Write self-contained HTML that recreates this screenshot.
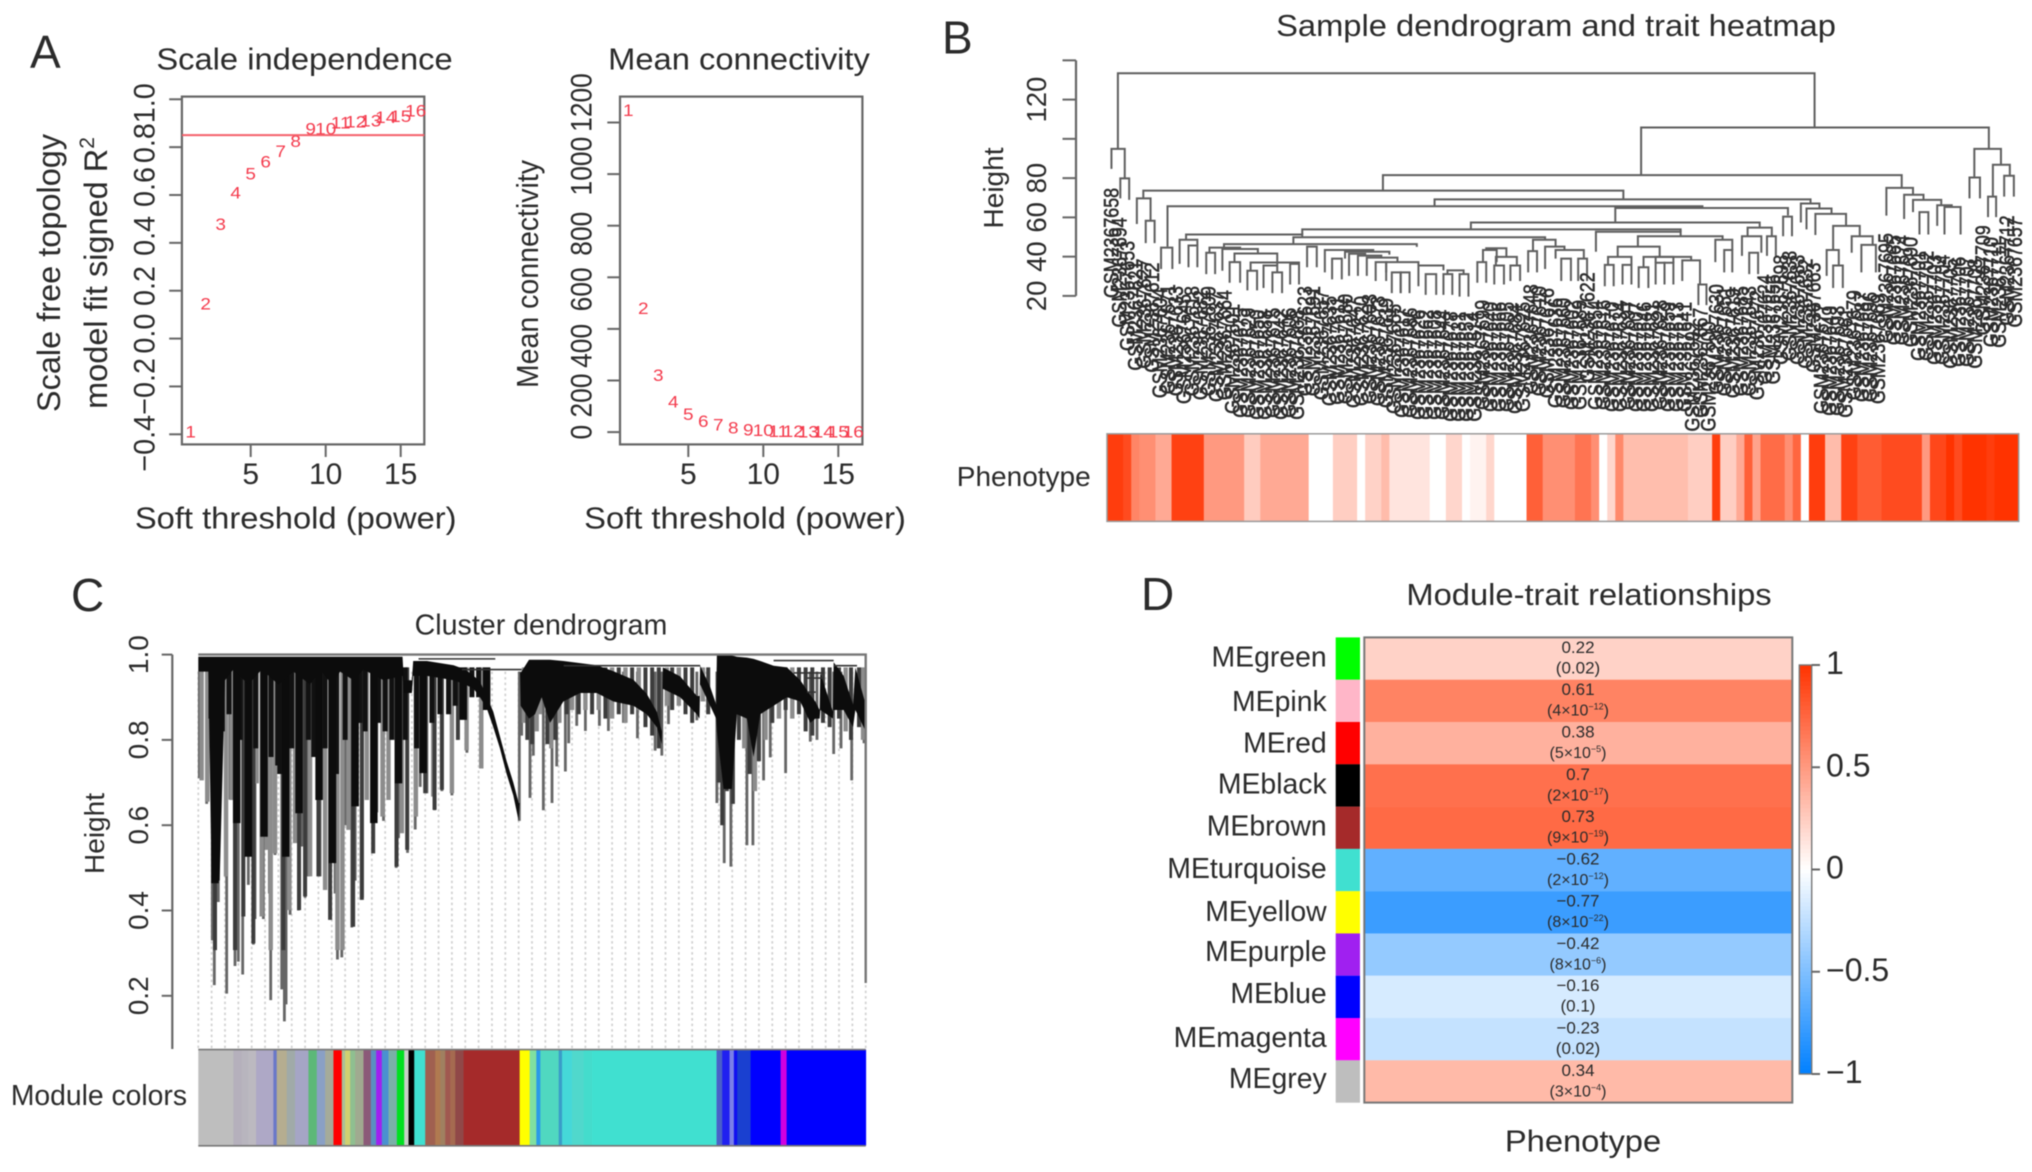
<!DOCTYPE html>
<html lang="en">
<head>
<meta charset="utf-8">
<title>WGCNA figure</title>
<style>
html,body{margin:0;padding:0;background:#fff;}
#figure{display:block;width:2032px;height:1172px;filter:blur(0.55px);font-family:"Liberation Sans",Arial,sans-serif;}
text{fill:#2b2b2b;font-family:"Liberation Sans",Arial,sans-serif;}
</style>
</head>
<body>
<svg id="figure" xmlns="http://www.w3.org/2000/svg" width="2032" height="1172" viewBox="0 0 2032 1172">
<rect x="0" y="0" width="2032" height="1172" fill="#fff"/>

<g id="panelA1">
<text x="30" y="68" font-size="46">A</text>
<text transform="translate(304.5,69.6) scale(1.055,1)" font-size="31" text-anchor="middle">Scale independence</text>
<text transform="translate(60,273) rotate(-90)" font-size="32.5" text-anchor="middle">Scale free topology</text>
<text transform="translate(107,273) rotate(-90)" font-size="32.5" text-anchor="middle">model fit signed R<tspan font-size="21" dy="-13">2</tspan></text>
<text transform="translate(295.7,528.6) scale(1.055,1)" font-size="31" text-anchor="middle">Soft threshold (power)</text>
</g>

<g id="panelA2">
<text transform="translate(739,69.6) scale(1.055,1)" font-size="31" text-anchor="middle">Mean connectivity</text>
<text transform="translate(538,274) rotate(-90) scale(.92,1)" font-size="31" text-anchor="middle">Mean connectivity</text>
<text transform="translate(745,528.6) scale(1.055,1)" font-size="31" text-anchor="middle">Soft threshold (power)</text>
</g>

<g id="panelB">
<text x="942" y="53.5" font-size="46">B</text>
<text transform="translate(1556,36) scale(1.055,1)" font-size="31" text-anchor="middle">Sample dendrogram and trait heatmap</text>
<text transform="translate(1003,188) rotate(-90)" font-size="28" text-anchor="middle">Height</text>
<text x="1090.7" y="486" font-size="28" text-anchor="end">Phenotype</text>
</g>

<g id="panelC">
<text x="71" y="611" font-size="46">C</text>
<text x="541" y="634.5" font-size="28.6" text-anchor="middle">Cluster dendrogram</text>
<text transform="translate(104,833.5) rotate(-90)" font-size="28" text-anchor="middle">Height</text>
<text x="187" y="1105" font-size="28.3" text-anchor="end">Module colors</text>
</g>

<g id="panelD">
<text x="1141" y="610" font-size="46">D</text>
<text transform="translate(1589,605) scale(1.055,1)" font-size="31" text-anchor="middle">Module-trait relationships</text>
<text transform="translate(1583,1151.7) scale(1.055,1)" font-size="31" text-anchor="middle">Phenotype</text>
</g>
</svg>

<script>
/* ---------- Panel A data ---------- */
const softPowers = [1,2,3,4,5,6,7,8,9,10,11,12,13,14,15,16];
const scaleFitR2 = [-0.39,0.146,0.478,0.609,0.688,0.74,0.782,0.824,0.878,0.878,0.903,0.907,0.91,0.925,0.93,0.952];
const r2Cutoff = 0.85;
const meanConnectivity = [1248,480,221,118,69,42,28,18,10,7,4,3,2,2,1,1];
const powerTicks = [5,10,15];
const r2Ticks = [-0.4,-0.2,0,0.2,0.4,0.6,0.8,1];
const r2TickLabels = ['\u22120.4','\u22120.2','0.0','0.2','0.4','0.6','0.8','1.0'];
const connectivityTicks = [0,200,400,600,800,1000,1200];

/* ---------- Panel B data ---------- */
const phenotypeValues = [.95,.95,.88,.6,.55,.55,.42,.42,.93,.93,.93,.93,.5,.5,.5,.5,.5,.25,.25,.42,.42,.42,.42,.42,.42,0,0,0,.24,.24,.24,0,.22,.22,.33,.13,.13,.13,.13,.13,0,0,.2,.2,0,.06,.06,.2,0,0,0,0,.78,.78,.55,.55,.55,.55,.68,.68,.55,0,.2,.58,.32,.32,.32,.32,.32,.32,.32,.32,.24,.24,.24,.95,.24,.24,.42,.78,.45,.72,.72,.72,.55,.75,0,.95,.95,.33,.33,.93,.93,.8,.8,.8,.88,.88,.88,.88,.88,.5,.9,.9,1,.88,1,1,1,.95,1,1,1];
const leafHang = [76,61,49,39,40,38,25,27,26,22,26,24,26,23,24,17,15,15,14,14,15,14,15,14,26,26,24,21,21,22,20,21,22,21,20,17,15,15,14,14,14,14,13,13,13,13,19,18,18,18,17,18,27,26,25,20,20,19,19,33,19,19,18,18,19,18,18,18,19,18,18,18,8,15,8,27,26,25,26,26,24,32,32,42,44,42,40,38,17,16,16,15,24,23,23,22,53,52,52,51,44,44,42,42,40,41,41,40,57,51,50,62,61];
const sampleSuffixes = [658,694,653,621,627,612,604,671,633,645,618,682,609,637,664,601,675,629,650,688,615,642,606,668,623,691,657,635,611,680,647,620,603,673,639,655,617,686,626,662,608,644,678,631,652,614,699,640,666,605,684,625,648,610,676,636,660,602,689,622,654,616,670,634,697,607,646,681,628,659,613,641,692,667,600,630,651,619,685,643,672,624,656,698,638,683,632,663,677,649,693,661,679,687,696,669,695,665,674,690,701,702,703,704,705,706,707,708,709,710,711,712,657];
/* each merge: left leaf position, right leaf position, merge height, left child height, right child height */
const mergeNodes = [
[1.35,87.7,133.4,95.2,105.8],[.55,2.2,94.9,84.7,79.9],[1.65,2.75,79.9,69.7,68.9],[66.2,109.3,105.8,81.5,94.9],
[34.2,98.5,81.5,73.6,75],[4.5,64,73.6,69.7,69.2],[3.7,5.4,69.7,56.6,58.3],[4.8,5.9,58.3,46.9,46.9],
[40.6,87.2,69.2,65.7,67.1],[7.5,73.8,65.7,45.1,64.8],[63,84.4,64.8,57.4,61],[45.1,80.9,57.4,53.9,54.8],
[24.2,71.1,53.9,51.3,52.7],[60.6,71.1,52.7,42.5,50.4],[65.8,76.3,50.4,45.1,48.6],[9.8,24.2,51.3,48.6,49.9],
[23.1,54.3,49.9,46.4,48.6],[14.5,38.4,46.4,43.9,45],[9,11.2,48.6,36.3,45.7],[10.1,11.2,45.7,34.6,34.6],
[6.7,8.1,44.6,33.7,33.7],[12.3,13.4,42,31.1,31.1],[12.7,16.5,44.6,42,43.9],[14.3,18.7,43.9,32.8,41.6],
[15.8,21.1,41.6,37.2,36],[15.2,16.5,37.2,26.7,26.7],[17.8,23.8,37,32.8,36.3],[17.4,18.6,32.8,22.8,22.8],
[19.4,21.1,35.5,24,32],[20.5,21.7,32,21.4,21.4],[22.7,23.8,36.3,25.8,25.8],[24.8,26,45.1,34.6,34.6],
[27,33,43.4,32,42.5],[27.9,29.1,39,28.4,28.4],[29.5,35,42.5,39,41],[30,32,41.5,30.2,40.5],[31.1,34,40.5,30.2,39.5],
[32.2,36,39.5,30.2,37.6],[33.3,34.6,37.2,27.6,27.6],[34.6,38.6,37.2,32,35.5],[35.3,36.4,32,21.4,21.4],[36.4,37.5,32,21.4,21.4],
[38.6,41.7,35.5,24.9,33],[39.5,40.8,31.1,20.5,20.5],[42.2,44.2,33,31.1,31.1],[41.7,42.8,31.1,20.5,20.5],[43.7,44.8,31.1,19.6,19.6],
[46.6,48.3,43.4,37.2,37.2],[45.9,47,37.2,26.7,26.7],[48.2,50.8,39.9,35.5,35.5],[48,49.2,35.5,25.8,25.8],[50,51.2,35.5,27.6,27.6],
[47,49.5,44.3,43.4,39.9],[52.8,55.6,48.6,42.8,45],[52.2,53.3,42.8,32,32],[54.3,56.7,45.1,33.7,43.4],[55.6,59.1,43.4,39,39],
[56.3,57.5,39,27.6,27.6],[58.4,59.5,39,27.6,27.6],[63.3,68.5,45.1,39.9,39.9],[62.1,65,39.9,35.8,35.8],[61.7,62.8,35.8,24.9,24.9],
[63.9,65,35.8,25.8,25.8],[66.5,72.4,39.9,34.6,38.1],[65.9,67.1,34.6,24,24],[68,70.2,39.9,36.9,36.9],[68,69.1,36.9,25.8,25.8],
[69.1,70.2,36.9,25.8,25.8],[71.3,73.5,38.1,27.6,25.8],[73.3,74.3,25.8,15.3,15.3],[75.4,77.5,48.6,37.2,43.4],[76.5,77.5,43.4,32,32],
[79.4,82.4,54.8,50.4,50.4],[78.7,81.1,50.4,40.4,42],[79.6,80.7,42,31.1,31.1],[81.8,82.9,50.4,40.4,40.4],[83.8,84.9,60.4,50.4,50.4],
[86,88.3,67.1,57.4,64.5],[86.7,89.8,64.5,53.9,61.8],[87.8,91.6,61.8,51,55.7],[90,93.3,55.7,43.4,50.4],[89.2,90.7,43.4,30.2,35.5],
[90,91.2,35.5,24,24],[92.3,94.9,50.4,42,46],[93.5,95.3,46,32,32],[96.6,99.9,75,60.9,71.5],[98.8,101.2,71.5,59.2,68.9],
[99.9,103.4,68.9,62.7,66.2],[100.7,101.8,62.7,51.3,51.3],[102.9,104.7,66.2,55.7,65.3],[103.8,105.8,65.3,51.3,51.3],
[107.5,110.8,94.9,80.3,86.8],[106.9,108.2,80.3,69.7,69.7],[109.8,111.9,86.8,70.6,81.2],[109.2,110.2,70.6,60.1,60.1],[111.2,112.4,81.2,70.6,70.6]
];
const sampleHeightTicks = [20,40,60,80,100,120,140];
const sampleHeightLabels = ['20','40','60','80','','120',''];

/* ---------- Panel C data ---------- */
const geneTreeHeightTicks = [0.2,0.4,0.6,0.8,1.0];
const geneTreeTickLabels = ['0.2','0.4','0.6','0.8','1.0'];
const massPos = [0,1.5,2,3.2,4,5.25,7.5,9.5,12,14.25,16.75,18.25,20,21.25,23.25,24.75,27.75,30.6,30.8,32,32.2,34.25,36.25,38.25,40,41.25,42.2,43.2,44.2,45.2,46.2,47.2,48,48.15,48.2,48.3,49.55,50.45,51.45,52.7,54.7,57.2,59.7,62.2,65.2,67.2,68.7,69.45,69.6,72.2,74.7,75.1,75.2,76.7,77.6,77.7,78.7,79.95,80.7,82.2,83.2,84.2,86.2,88.2,90.2,91.7,92.45,93.1,93.2,95.1,95.2,96.7,98.1,98.45,100];
const massTop = [.995,.995,.995,.995,.995,.995,.995,.995,.995,.995,.995,.995,.995,.995,.995,.995,.995,.995,.94,.94,.985,.985,.98,.975,.965,.95,.937,.903,.866,.808,.75,.7,.652,.652,.96,.957,.988,.988,.988,.988,.985,.98,.975,.961,.941,.908,.866,.82,.97,.949,.903,.903,.974,.924,.883,.998,.998,.998,.995,.993,.99,.985,.974,.97,.94,.905,.89,.87,.957,.866,.982,.95,.883,.97,.883];
const massBottom = [.96,.96,.47,.47,.94,.965,.93,.965,.93,.96,.93,.965,.93,.96,.94,.965,.94,.95,.91,.91,.95,.95,.945,.94,.93,.92,.9,.875,.83,.78,.72,.67,.61,.652,.96,.88,.85,.86,.9,.84,.89,.91,.91,.89,.88,.86,.83,.79,.92,.9,.86,.85,.93,.88,.85,.82,.685,.685,.86,.85,.76,.86,.88,.9,.89,.84,.85,.85,.87,.85,.87,.87,.83,.87,.82];
const tailPos = [.15,1.25,2.1,2.4,3,4.25,4.75,5.5,6,6.65,7.5,8.25,8.5,9.75,10.65,10.85,11.5,12.5,12.9,13.15,13.75,15,15.5,16,16.5,18,18.25,19,19.75,20.5,20.85,21.5,22,23,23.5,24.6,25.25,26.25,26.75,27.75,28.5,29.65,30,31.35,32.5,33.25,34.25,35.4,36.5,38,38.85,40.25,42.3,43.5,48.1,48.45,49.7,50.2,51.7,53,53.7,55,55.5,56.7,58,60.1,61.45,63.7,65.8,68.45,69.45,70.45,74.7,77.7,78.8,79.8,82.2,83.1,84.7,85.7,88,91.7,92.7,95.2,96.3,97.9,99.75];
const tailTip = [.71,.65,.33,.225,.42,.205,.66,.27,.28,.25,.46,.32,.38,.38,.44,.19,.53,.215,.14,.18,.39,.4,.55,.43,.48,.51,.48,.45,.38,.44,.285,.29,.6,.36,.47,.43,.66,.535,.63,.61,.66,.5,.57,.535,.59,.69,.675,.635,.68,.67,.8,.77,.735,.87,.61,.81,.664,.763,.635,.652,.738,.726,.792,.833,.821,.833,.821,.84,.804,.775,.763,.837,.846,.652,.511,.503,.553,.553,.705,.759,.722,.796,.8,.767,.78,.705,.792];
const grayBranchPos = [.5,1.35,4.15,5,8.75,9.5,10.25,10.85,11.5,13.65,14.5,16.75,19,20.85,21.6,22.5,25.25,27.6,28.5,30.5,32.6,35.2,38,40.2,42.4,48.8,50.7,51.2,52.9,54.1,56,58,60,62,64,66,70.2,72,75.6,81.8,83.4,85,87,89,97,99.6];
const grayBranchTip = [.705,.655,.48,.659,.698,.386,.542,.307,.534,.401,.558,.48,.448,.307,.307,.589,.659,.62,.659,.581,.62,.667,.675,.776,.733,.84,.82,.86,.78,.84,.87,.87,.87,.85,.84,.87,.88,.88,.89,.78,.68,.8,.85,.85,.82,.8];
const darkBranchPos = [2.5,5.5,6.75,8.25,12.75,15.1,16,18,19.75,23.2,24.5,26.2,29.7,31.3,34,35.4,36.5,38.9,49.3,50,52.3,53.5,55.2,57,59,61,63,65,67,68,69,71,73,74,76.4,78,78.5,79.2,80.1,81,82.6,84,86,88,90,91,92,93.6,94.6,96,97.8,99];
const darkBranchTip = [.307,.307,.386,.323,.307,.401,.433,.48,.378,.362,.425,.534,.503,.542,.675,.636,.683,.8,.8,.79,.79,.8,.86,.86,.86,.85,.86,.86,.83,.81,.78,.87,.86,.84,.86,.7,.6,.68,.65,.8,.72,.75,.84,.87,.86,.82,.81,.84,.83,.85,.8,.83];
const blackBranchPos = [2.5,5.75,7.5,9.85,13.1,15.1,18.1,20.1,23.5,26.3,30,33.7,39.7,43.2];
const blackBranchTip = [.464,.605,.526,.573,.526,.628,.659,.511,.644,.605,.698,.722,.847,.87];
const shortBranchPos = [1.9,3.6,4.6,6.3,8.6,10.9,11.9,12.2,14,16.5,17.3,19,20.7,22,24.2,25,27,28,29,31,32.7,35,36.2,37.5,38.5,41,42];
const shortBranchTip = [.85,.82,.86,.8,.78,.76,.74,.72,.78,.8,.76,.78,.72,.8,.84,.82,.84,.82,.8,.8,.78,.84,.86,.86,.88,.9,.9];
const treeConnectors = [[33,44.5,.99],[39.5,48.45,.965],[54.75,75.2,.974],[86.2,95.2,.986],[95.2,98.7,.974],[89.2,93.7,.957],[91.2,93.7,.945],[91.2,92.5,.912]];
const guideLineCount = 50;
const moduleStops = [0,5.25,6.5,7.5,8.65,11.25,11.75,13.25,14.5,16.5,17.75,19,20.25,21.5,22,22.75,23.5,24.75,25.85,26.65,27.5,28.5,29.75,30.85,31.5,32.35,34,35.5,36.25,37,37.75,38.5,39.75,48.15,49.65,50.65,51.25,54,54.5,56,57.75,59,77.65,78.5,79.6,80.25,80.75,82.75,87.25,88.15,100];
const moduleStripColors = ['#bebebe','#b5b0bc','#b8b5be','#bcb9c0','#aea8c6','#6a78c8','#b5ad90','#a0aaa8','#a5a5c5','#5cb878','#8aa0c5','#a5ab9a','#ff0000','#a9c098','#d0d070','#8fbf90','#a0aa90','#8b5a78','#5a90c0','#a020f0','#4a90d0','#7ab0a8','#00e020','#c8d0c8','#000000','#40e0d0','#a06050','#b07a50','#a08060','#a05850','#a56a50','#904848','#a52a2a','#ffff00','#80e0a0','#2a9ae8','#50d8c0','#3a9cc8','#45d8d8','#50d8cc','#44dccc','#40e0d0','#4a60c8','#2020f0','#7a80e8','#1010f0','#1a40d0','#0000ff','#d000e0','#0000ff'];

/* ---------- Panel D data ---------- */
const moduleNames = ['MEgreen','MEpink','MEred','MEblack','MEbrown','MEturquoise','MEyellow','MEpurple','MEblue','MEmagenta','MEgrey'];
const moduleSwatches = ['#00ff00','#ffb6c8','#ff0000','#000000','#a52a2a','#40e0d0','#ffff00','#a020f0','#0000ff','#ff00ff','#bebebe'];
const moduleCorrelations = [0.22,0.61,0.38,0.7,0.73,-0.62,-0.77,-0.42,-0.16,-0.23,0.34];
const modulePMantissa = ['0.02','4','5','2','9','2','8','8','0.1','0.02','3'];
const modulePExponent = ['','-12','-5','-17','-19','-12','-22','-6','','','-4'];
const colorbarTicks = [1,0.5,0,-0.5,-1];
const colorbarLabels = ['1','0.5','0','\u22120.5','\u22121'];

/* ---------- helpers ---------- */
const NS = 'http://www.w3.org/2000/svg';
function add(parent, tag, attrs, text){
  const e = document.createElementNS(NS, tag);
  for (const k in attrs) e.setAttribute(k, attrs[k]);
  if (text !== undefined) e.textContent = text;
  parent.appendChild(e);
  return e;
}
const AXIS = '#666';

/* ---------- Panel A: axis functions ---------- */
const xScaleFit = v => 190.7 + (v - 1) * 15;
const yScaleFit = v => 434.3 - (v + 0.4) * 239.3;
const xConn = v => 628.3 + (v - 1) * 15;
const yConn = v => 432.1 - v * 0.258;

function drawSoftPlot(group, boxLeft, xFn, yFn, yTicks, yLabels, yLabelX, yFont, yStretch, labelShift, values, prefix){
  const frame = add(group, 'rect', {x:boxLeft, y:96.6, width:242.4, height:347.8, fill:'none', stroke:AXIS, 'stroke-width':2.2});
  
  
  powerTicks.forEach(t => {
    const tk = add(group, 'line', {x1:xFn(t), x2:xFn(t), y1:444.6, y2:457, stroke:AXIS, 'stroke-width':2});
    
    
    const lb = add(group, 'text', {x:xFn(t), y:484, 'font-size':30, 'text-anchor':'middle'}, String(t));
    
    
  });
  yTicks.forEach((t, i) => {
    const tk = add(group, 'line', {x1:boxLeft - 12.7, x2:boxLeft, y1:yFn(t), y2:yFn(t), stroke:AXIS, 'stroke-width':2});
    
    
    const lb = add(group, 'text', {transform:'translate(' + yLabelX + ',' + (yFn(t) + labelShift[i]) + ') rotate(-90) scale(' + yStretch + ',1)', 'font-size':yFont, 'text-anchor':'middle'}, yLabels[i]);
    
    
  });
  softPowers.forEach((p, i) => {
    const pt = add(group, 'text', {transform:'translate(' + xFn(p) + ',' + (yFn(values[i]) + 5.8) + ') scale(1.15,1)', 'font-size':16.5, 'text-anchor':'middle', style:'fill:#f43a4c'}, String(p));
    
    
  });
}
const groupA1 = document.getElementById('panelA1');
const groupA2 = document.getElementById('panelA2');
drawSoftPlot(groupA1, 181.9, xScaleFit, yScaleFit, r2Ticks, r2TickLabels, 154.5, 30, 0.96, [9,0,-5,-4.7,-7,-8,-4,4], scaleFitR2, 'scale-fit');
drawSoftPlot(groupA2, 620, xConn, yConn, connectivityTicks, connectivityTicks.map(String), 591.5, 30, 0.88, [0,15,17,12,8,-8,-20], meanConnectivity, 'connectivity');
const cutoffLine = add(groupA1, 'line', {x1:182, x2:424.3, y1:yScaleFit(r2Cutoff), y2:yScaleFit(r2Cutoff), stroke:'#f4606a', 'stroke-width':2});



/* ---------- Panel B ---------- */
const groupB = document.getElementById('panelB');
const yHeightB = v => 295.9 - (v - 20) * 1.963;
const stripLeft = 1107, stripWidth = 911.7;
const xLeaf = u => stripLeft + u * stripWidth / phenotypeValues.length;
const axisB = add(groupB, 'line', {x1:1076, x2:1076, y1:yHeightB(140), y2:yHeightB(20), stroke:AXIS, 'stroke-width':2.2});


sampleHeightTicks.forEach((t, i) => {
  const tk = add(groupB, 'line', {x1:1062.5, x2:1076, y1:yHeightB(t), y2:yHeightB(t), stroke:AXIS, 'stroke-width':2});
  
  
  if (sampleHeightLabels[i]) {
    const lb = add(groupB, 'text', {transform:'translate(1046,' + yHeightB(t) + ') rotate(-90)', 'font-size':27.5, 'text-anchor':'middle'}, sampleHeightLabels[i]);
    
    
  }
});
mergeNodes.forEach(m => {
  const d = 'M' + xLeaf(m[0]) + ' ' + yHeightB(m[3]) + 'V' + yHeightB(m[2]) + 'H' + xLeaf(m[1]) + 'V' + yHeightB(m[4]);
  const br = add(groupB, 'path', {d:d, fill:'none', stroke:'#5e5e5e', 'stroke-width':2});
  
  
});
leafHang.forEach((h, i) => {
  const x = xLeaf(i + 0.5) + 7.5;
  const y = yHeightB(h) + 2;
  const lb = add(groupB, 'text', {transform:'translate(' + x + ',' + y + ') rotate(-90) scale(.85,1)', 'font-size':21, 'text-anchor':'end', style:'fill:#2c2c2c;stroke:#2c2c2c;stroke-width:.55'}, 'GSM2367' + sampleSuffixes[i]);
  
  
});
const redRamp = v => 'rgb(255,' + Math.round(255 - 204 * v) + ',' + Math.round(255 - 255 * v) + ')';
phenotypeValues.forEach((v, i) => {
  const c = add(groupB, 'rect', {x:xLeaf(i), y:433.8, width:stripWidth / phenotypeValues.length + 0.4, height:87.6, fill:redRamp(v)});
  
  
});
const stripFrame = add(groupB, 'rect', {x:stripLeft, y:433.8, width:stripWidth, height:87.6, fill:'none', stroke:'#9a9a9a', 'stroke-width':1.5});



/* ---------- Panel C ---------- */
const groupC = document.getElementById('panelC');
const xGene = p => 198.3 + p * 6.674;
const yGene = v => 995.8 - (v - 0.2) * 426.5;
for (let k = 0; k <= guideLineCount; k++) {
  const g = add(groupC, 'line', {x1:xGene(k * 100 / guideLineCount), x2:xGene(k * 100 / guideLineCount), y1:yGene(0.96), y2:1049, stroke:'#d2d2d2', 'stroke-width':1.8, 'stroke-dasharray':'2.5 3'});
  
  
}
const axisC = add(groupC, 'line', {x1:172.3, x2:172.3, y1:yGene(1), y2:1049, stroke:AXIS, 'stroke-width':2.2});


geneTreeHeightTicks.forEach((t, i) => {
  const tk = add(groupC, 'line', {x1:161.7, x2:172.3, y1:yGene(t), y2:yGene(t), stroke:AXIS, 'stroke-width':2});
  
  
  const lb = add(groupC, 'text', {transform:'translate(148,' + yGene(t) + ') rotate(-90)', 'font-size':28, 'text-anchor':'middle'}, geneTreeTickLabels[i]);
  
  
});
tailPos.forEach((p, i) => {
  const t = add(groupC, 'line', {x1:xGene(p), x2:xGene(p), y1:yGene(0.96), y2:yGene(tailTip[i]), stroke:'#666', 'stroke-width':2.8});
  
  
});
grayBranchPos.forEach((p, i) => {
  const t = add(groupC, 'line', {x1:xGene(p), x2:xGene(p), y1:yGene(0.97), y2:yGene(grayBranchTip[i]), stroke:'#8c8c8c', 'stroke-width':4.4});
  
  
});
darkBranchPos.forEach((p, i) => {
  const t = add(groupC, 'line', {x1:xGene(p), x2:xGene(p), y1:yGene(0.97), y2:yGene(darkBranchTip[i]), stroke:'#3c3c3c', 'stroke-width':4});
  
  
});
shortBranchPos.forEach((p, i) => {
  const t = add(groupC, 'line', {x1:xGene(p), x2:xGene(p), y1:yGene(0.97), y2:yGene(shortBranchTip[i]), stroke:'#111', 'stroke-width':5});
  
  
});
blackBranchPos.forEach((p, i) => {
  const t = add(groupC, 'line', {x1:xGene(p), x2:xGene(p), y1:yGene(0.97), y2:yGene(blackBranchTip[i]), stroke:'#0c0c0c', 'stroke-width':7.5});
  
  
});
let massPath = 'M';
massPos.forEach((p, i) => { massPath += (i ? 'L' : '') + xGene(p) + ' ' + yGene(massTop[i]); });
for (let i = massPos.length - 1; i >= 0; i--) { massPath += 'L' + xGene(massPos[i]) + ' ' + yGene(massBottom[i]); }
const mass = add(groupC, 'path', {d:massPath + 'Z', fill:'#0c0c0c'});


treeConnectors.forEach(c => {
  const l = add(groupC, 'line', {x1:xGene(c[0]), x2:xGene(c[1]), y1:yGene(c[2]), y2:yGene(c[2]), stroke:'#333', 'stroke-width':1.6});
  
  
});
const treeTop = add(groupC, 'path', {d:'M' + xGene(0) + ' ' + yGene(1) + 'H' + xGene(100) + 'V' + yGene(0.23), fill:'none', stroke:'#777', 'stroke-width':2.4});


moduleStripColors.forEach((col, i) => {
  const r = add(groupC, 'rect', {x:xGene(moduleStops[i]), y:1049.6, width:xGene(moduleStops[i + 1]) - xGene(moduleStops[i]) + 0.4, height:96.2, fill:col});
  
  
});
const stripBase = add(groupC, 'path', {d:'M' + xGene(0) + ' 1049.6H' + xGene(100) + 'M' + xGene(0) + ' 1145.8H' + xGene(100), fill:'none', stroke:'#777', 'stroke-width':1.6});



/* ---------- Panel D ---------- */
const groupD = document.getElementById('panelD');
const rowTop = i => 637.4 + i * 42.29;
const rowLabelShift = [0,2.5,1.5,0,0,0,1,-1.5,-1.5,0,-1.5];
const divergingColor = v => v >= 0
  ? redRamp(v)
  : 'rgb(' + Math.round(255 * (1 + v)) + ',' + Math.round(255 + 127 * v) + ',255)';
moduleNames.forEach((name, i) => {
  const lb = add(groupD, 'text', {x:1326.7, y:rowTop(i) + 29 + rowLabelShift[i], 'font-size':28.4, 'text-anchor':'end'}, name);
  
  
  const sw = add(groupD, 'rect', {x:1335.7, y:rowTop(i), width:24.3, height:42.4, fill:moduleSwatches[i]});
  
  
  const cell = add(groupD, 'rect', {x:1364.3, y:rowTop(i), width:428, height:42.4, fill:divergingColor(moduleCorrelations[i])});
  
  
  const corr = add(groupD, 'text', {x:1578, y:rowTop(i) + 15.5, 'font-size':17, 'text-anchor':'middle'}, String(moduleCorrelations[i]).replace('-', '\u2212'));
  
  
  const pv = add(groupD, 'text', {x:1578, y:rowTop(i) + 36, 'font-size':modulePExponent[i] ? 16 : 17, 'text-anchor':'middle'});
  
  
  if (modulePExponent[i]) {
    pv.appendChild(document.createTextNode('(' + modulePMantissa[i] + '\u00d710'));
    const sup = add(pv, 'tspan', {'font-size':9, dy:-6}, modulePExponent[i].replace('-', '\u2212'));
    
    
    const close = add(pv, 'tspan', {dy:6}, ')');
    
    
  } else {
    pv.textContent = '(' + modulePMantissa[i] + ')';
  }
});
const heatFrame = add(groupD, 'rect', {x:1364.3, y:637.4, width:428, height:465.2, fill:'none', stroke:'#777', 'stroke-width':2});


const yBar = v => 869.5 - v * 204.5;
for (let s = 0; s < 100; s++) {
  const v = 1 - s / 50;
  const seg = add(groupD, 'rect', {x:1799.3, y:yBar(v), width:12.4, height:4.6, fill:divergingColor(v - 0.01)});
  
  
}
const barFrame = add(groupD, 'rect', {x:1799.3, y:yBar(1), width:12.4, height:409, fill:'none', stroke:'#777', 'stroke-width':1.4});


colorbarTicks.forEach((t, i) => {
  const tk = add(groupD, 'line', {x1:1811.7, x2:1820, y1:yBar(t), y2:yBar(t), stroke:AXIS, 'stroke-width':2});
  
  
  const lb = add(groupD, 'text', {x:1826, y:yBar(t) + 9, 'font-size':32}, colorbarLabels[i]);
  
  
});
</script>
</body>
</html>
